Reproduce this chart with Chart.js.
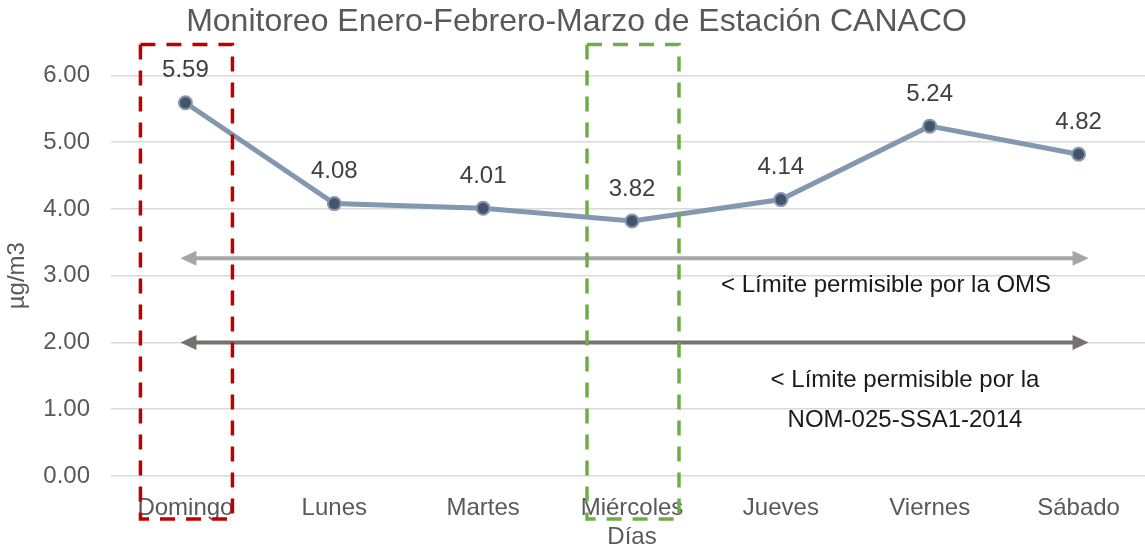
<!DOCTYPE html>
<html>
<head>
<meta charset="utf-8">
<script src="https://cdn.jsdelivr.net/npm/chart.js@4/dist/chart.umd.min.js"></script>
<style>
  html, body { margin: 0; padding: 0; background: #fff; overflow: hidden; }
  #wrap { width: 1145px; height: 552px; overflow: hidden; }
</style>
</head>
<body>
<div id="wrap"><canvas id="diasChart" width="1153" height="552" style="width:1153px;height:552px"></canvas></div>
<script>
const dias = ['Domingo', 'Lunes', 'Martes', 'Miércoles', 'Jueves', 'Viernes', 'Sábado'];
const promedios = [5.59, 4.08, 4.01, 3.82, 4.14, 5.24, 4.82];
const limiteOMS = 3.26;   // flecha gris clara
const limiteNOM = 2.0;    // flecha gris oscura
const diasMarcados = ['Domingo', 'Miércoles'];

const FONT = '"Liberation Sans", Arial, sans-serif';

// etiquetas de valor encima de cada punto
const etiquetas = {
    id: 'etiquetas',
    afterDatasetsDraw(chart) {
        const ctx = chart.ctx;
        const meta = chart.getDatasetMeta(0);
        ctx.save();
        ctx.font = '24px ' + FONT;
        ctx.fillStyle = '#404040';
        ctx.textAlign = 'center';
        ctx.textBaseline = 'middle';
        meta.data.forEach((pt, i) => {
            ctx.fillText(promedios[i].toFixed(2), pt.x, pt.y - 32);
        });
        ctx.restore();
    }
};

function flecha(ctx, x1, x2, y, color) {
    ctx.strokeStyle = color;
    ctx.fillStyle = color;
    ctx.lineWidth = 4;
    ctx.beginPath();
    ctx.moveTo(x1 + 12, y);
    ctx.lineTo(x2 - 12, y);
    ctx.stroke();
    ctx.beginPath();
    ctx.moveTo(x1, y); ctx.lineTo(x1 + 16, y - 7.5); ctx.lineTo(x1 + 16, y + 7.5);
    ctx.closePath(); ctx.fill();
    ctx.beginPath();
    ctx.moveTo(x2, y); ctx.lineTo(x2 - 16, y - 7.5); ctx.lineTo(x2 - 16, y + 7.5);
    ctx.closePath(); ctx.fill();
}

// flechas de limites, textos y recuadros punteados
const anotaciones = {
    id: 'anotaciones',
    beforeDatasetsDraw(chart) {
        const ctx = chart.ctx;
        const x = chart.scales.x, y = chart.scales.y;
        const a = x.getPixelForValue(0) - 5;
        const b = x.getPixelForValue(6) + 10;
        ctx.save();
        flecha(ctx, a, b, y.getPixelForValue(limiteOMS), '#a6a6a6');
        flecha(ctx, a, b, y.getPixelForValue(limiteNOM), '#767171');
        ctx.restore();
    },
    afterDraw(chart) {
        const ctx = chart.ctx;
        const x = chart.scales.x, area = chart.chartArea;
        ctx.save();
        ctx.font = '24px ' + FONT;
        ctx.fillStyle = '#1a1a1a';
        ctx.textAlign = 'center';
        ctx.textBaseline = 'middle';
        ctx.fillText('< Límite permisible por la OMS', 886, 285);
        ctx.fillText('< Límite permisible por la', 905, 380);
        ctx.fillText('NOM-025-SSA1-2014', 905, 420);

        const colores = ['#c00000', '#70ad47'];
        diasMarcados.forEach((d, i) => {
            const cx = x.getPixelForValue(dias.indexOf(d));
            ctx.strokeStyle = colores[i];
            ctx.lineWidth = 3.5;
            ctx.setLineDash([15, 11]);
            ctx.strokeRect(cx - 45, area.top - 31, 92, area.bottom - area.top + 74);
        });
        ctx.restore();
    }
};

new Chart(document.getElementById('diasChart'), {
    type: 'line',
    data: {
        labels: dias,
        datasets: [{
            data: promedios,
            borderColor: '#8497b0',
            borderWidth: 5,
            pointRadius: 6.5,
            pointBackgroundColor: '#44546a',
            pointBorderColor: '#8497b0',
            pointBorderWidth: 2,
            tension: 0
        }]
    },
    options: {
        responsive: false,
        animation: false,
        layout: { autoPadding: false, padding: 0 },
        plugins: {
            legend: { display: false },
            tooltip: { enabled: false },
            title: {
                display: true,
                text: 'Monitoreo Enero-Febrero-Marzo de Estación CANACO',
                color: '#595959',
                font: { family: FONT, size: 32, weight: 'normal' },
                padding: { top: 3, bottom: 34 }
            }
        },
        scales: {
            x: {
                offset: true,
                grid: { display: false },
                border: { display: false },
                ticks: { color: '#595959', font: { family: FONT, size: 24 }, padding: 10, maxRotation: 0 },
                title: { display: true, text: 'Días', color: '#595959', font: { family: FONT, size: 24 }, padding: { top: 13, bottom: 0 } },
                afterFit(s) { s.height = 76; }
            },
            y: {
                min: 0,
                max: 6,
                ticks: { stepSize: 1, color: '#595959', font: { family: FONT, size: 24 }, padding: 21,
                         callback: v => v.toFixed(2) },
                grid: { color: '#d9d9d9', lineWidth: 1.5, drawTicks: false },
                border: { display: false },
                title: { display: true, text: 'µg/m3', color: '#595959', font: { family: FONT, size: 24 }, padding: 3 },
                afterFit(s) { s.width = 111; }
            }
        }
    },
    plugins: [anotaciones, etiquetas]
});
</script>
</body>
</html>
